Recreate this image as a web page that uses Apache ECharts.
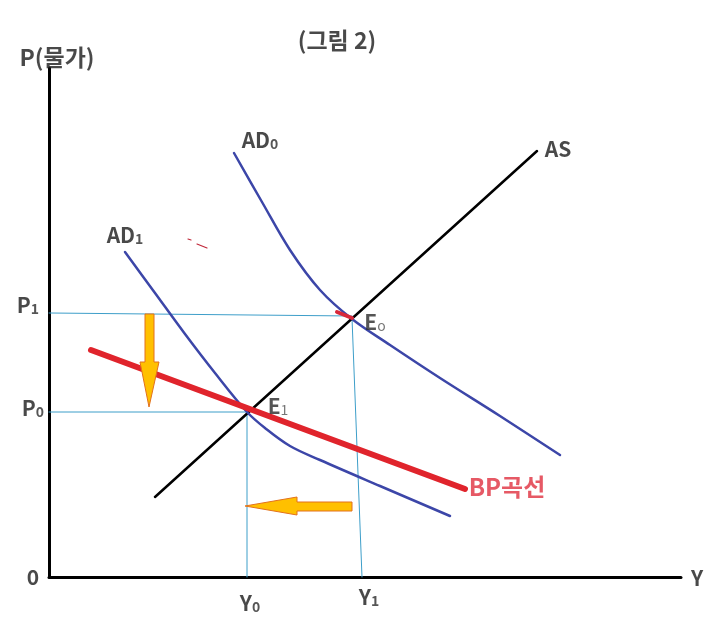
<!DOCTYPE html>
<html><head><meta charset="utf-8">
<script src="https://cdn.jsdelivr.net/npm/echarts@6/dist/echarts.min.js"></script>
<style>html,body{margin:0;padding:0;background:#fff}#c{width:723px;height:624px}</style>
</head><body><div id="c"></div>
<script>
// Coordinates: x = output Y (units from origin), y = price P (units from origin)
const asCurve = [[106,80],[488,426]];
const ad0Curve = [[185,424],[213,375],[241,327],[271,287],[303,258],[341,232],[391,199],[451,161],[511,122]];
const ad1Curve = [[76,325],[106,284],[136,243],[166,204],[198,165],[216,149],[241,131],[271,117],[331,91],[401,61]];
const bpCurve = [[42,227],[416,88]];
const p1Guide = [[0,264],[303,261]];
const p0Guide = [[0,165],[198,165]];
const y0Guide = [[198,165],[198,0]];
const y1Guide = [[303,259],[313,0]];
const e0Mark = [[288,265],[303,259]];
const redSpecks = [[139,338],[142,337],'-',[148,333],[158,329]];
const downArrow = [[96,263],[105,263],[105,215],[110,215],[100,170],[91,215],[96,215]];
const leftArrow = [[303,75],[248,75],[248,80],[196,71],[248,62],[248,66],[303,66]];

const labelTexts = ['{t|(그림 2)}','{t|P(물가)}','{m|AD}{s|0}','{m|AD}{s|1}','{m|AS}',
  '{m|P}{s|1}','{m|P}{s|0}','{e|E}{g|o}','{e|E}{g|1}','{m|0}','{m|Y}','{m|Y}{s|0}','{m|Y}{s|1}','{r|BP곡선}'];
const labelPos = [[288,537],[8,520],[211,437],[76,342],[509,428],
  [-21,272],[-16,169],[326,255],[229,171],[-16,0],[648,-1],[201,-26],[320,-20],[458,90]];

const FONT = "'Noto Sans CJK KR','Noto Sans',sans-serif";
const rich = {
  t:{fontFamily:FONT,fontSize:23,fontWeight:'bold',color:'#1c1c1c'},
  m:{fontFamily:FONT,fontSize:21,fontWeight:'bold',color:'#1c1c1c'},
  s:{fontFamily:FONT,fontSize:14,fontWeight:'bold',color:'#2a2a2a',verticalAlign:'bottom'},
  e:{fontFamily:FONT,fontSize:21,fontWeight:'bold',color:'#2a2a2a'},
  g:{fontFamily:FONT,fontSize:14,color:'#555',verticalAlign:'bottom'},
  r:{fontFamily:FONT,fontSize:24,fontWeight:'bold',color:'#e0303e'}
};

const chart = echarts.init(document.getElementById('c'));
const line = (data, color, width, z) => ({type:'line', data, symbol:'none', silent:true, z:z||2,
  lineStyle:{color, width, cap:'round'}, clip:false});
const smoothLine = (data, color, width) => Object.assign(line(data,color,width,3), {smooth:0.35});

chart.setOption({
  animation:false,
  grid:{left:49, top:68, right:42, bottom:47},
  xAxis:{type:'value', min:0, max:632, axisLine:{show:true, lineStyle:{color:'#000', width:3}},
    axisTick:{show:false}, axisLabel:{show:false}, splitLine:{show:false}},
  yAxis:{type:'value', min:0, max:509, axisLine:{show:true, lineStyle:{color:'#000', width:3}},
    axisTick:{show:false}, axisLabel:{show:false}, splitLine:{show:false}},
  series:[
    line(p1Guide,'#3d9ec9',1,1),
    line(p0Guide,'#3d9ec9',1,1),
    line(y0Guide,'#3d9ec9',1,1),
    line(y1Guide,'#3d9ec9',1,1),
    line(asCurve,'#000',2.5,3),
    smoothLine(ad0Curve,'#3c46a8',2.5),
    smoothLine(ad1Curve,'#3c46a8',2.5),
    line(bpCurve,'#e0242c',6,4),
    line(e0Mark,'#d8283a',4,4),
    line(redSpecks,'#c0283a',1.2,4),
    {type:'custom', coordinateSystem:'cartesian2d', data:[[0,0]], clip:false, silent:true, z:5,
      renderItem:(params, api) => ({type:'group', children:[downArrow, leftArrow].map(poly => ({
        type:'polygon', shape:{points: poly.map(p => api.coord(p))},
        style:{fill:'#ffc000', stroke:'#e2711d', lineWidth:1}}))})},
    {type:'scatter', silent:true, clip:false, z:6, symbolSize:1, itemStyle:{color:'rgba(0,0,0,0)'},
      data: labelPos.map((p,i) => ({value:p, label:{show:true, position:'inside', formatter:labelTexts[i], rich}})),
      label:{show:true, position:'inside', rich}}
  ]
});
</script></body></html>
